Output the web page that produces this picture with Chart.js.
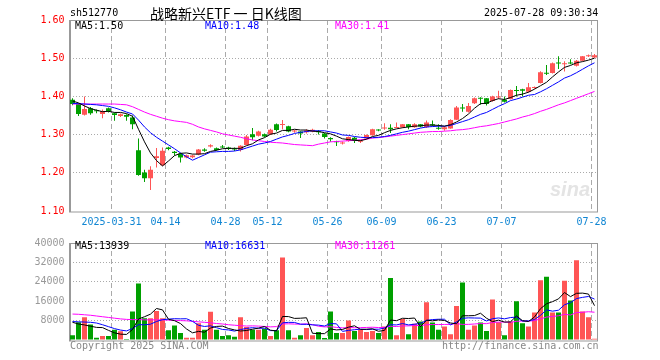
<!DOCTYPE html>
<html>
<head>
<meta charset="utf-8">
<script src="https://cdn.jsdelivr.net/npm/chart.js@4.4.1/dist/chart.umd.min.js"></script>
<style>
  html, body { margin: 0; padding: 0; background: #fff; }
  #wrap { position: relative; width: 660px; height: 360px; overflow: hidden; }
  canvas { position: absolute; left: 0; }
  .t { position: absolute; font: 10px "DejaVu Sans Mono", monospace; line-height: 12px; white-space: pre; }
  .title { position: absolute; font: 14px "Noto Sans CJK SC", sans-serif; line-height: 16px; white-space: pre; }
  .logo { position: absolute; font: italic bold 20px "Liberation Sans", sans-serif; color: #e4e4e4; }
</style>
</head>
<body>
<div id="wrap">
  <canvas id="kline" width="660" height="232" style="top:0"></canvas>
  <canvas id="vol" width="660" height="128" style="top:232px"></canvas>

  <div class="t" style="left:70px;top:7px">sh512770</div>
  <div class="title" style="left:150px;top:5px">战略新兴ETF 一 日K线图</div>
  <div class="t" style="left:484px;top:7px">2025-07-28 09:30:34</div>

  <div class="t" style="left:75px;top:20px;color:#000">MA5:1.50</div>
  <div class="t" style="left:205px;top:20px;color:#0000ff">MA10:1.48</div>
  <div class="t" style="left:335px;top:20px;color:#ff00ff">MA30:1.41</div>

  <div class="logo" style="left:550px;top:178px">sina</div>

  <div class="t" style="left:75px;top:240px;color:#000">MA5:13939</div>
  <div class="t" style="left:205px;top:240px;color:#0000ff">MA10:16631</div>
  <div class="t" style="left:335px;top:240px;color:#ff00ff">MA30:11261</div>

  <div class="t" style="left:70px;top:340px;color:#888">Copyright 2025 SINA.COM</div>
  <div class="t" style="left:442px;top:340px;color:#888">http://finance.sina.com.cn</div>
</div>

<script>
// trading days shown (MM-DD, 2025)
const DATES = [
  "03-20","03-21","03-24","03-25","03-26","03-27","03-28","03-31","04-01","04-02",
  "04-03","04-07","04-08","04-09","04-10","04-11","04-14","04-15","04-16","04-17",
  "04-18","04-21","04-22","04-23","04-24","04-25","04-28","04-29","04-30","05-06",
  "05-07","05-08","05-09","05-12","05-13","05-14","05-15","05-16","05-19","05-20",
  "05-21","05-22","05-23","05-26","05-27","05-28","05-29","05-30","06-03","06-04",
  "06-05","06-06","06-09","06-10","06-11","06-12","06-13","06-16","06-17","06-18",
  "06-19","06-20","06-23","06-24","06-25","06-26","06-27","06-30","07-01","07-02",
  "07-03","07-04","07-07","07-08","07-09","07-10","07-11","07-14","07-15","07-16",
  "07-17","07-18","07-21","07-22","07-23","07-24","07-25","07-28"
];

// x axis labels
const TICK_DATES = ["03-31","04-14","04-28","05-12","05-26","06-09","06-23","07-07","07-28"];
const TICK_TEXT  = ["2025-03-31","04-14","04-28","05-12","05-26","06-09","06-23","07-07","07-28"];

const OPEN = [
  1.391,1.380,1.352,1.369,1.363,1.354,1.369,1.356,1.349,1.351,
  1.345,1.259,1.201,1.186,1.239,1.220,1.266,1.255,1.250,1.240,
  1.241,1.248,1.261,1.269,1.264,1.268,1.266,1.262,1.260,1.273,
  1.301,1.297,1.301,1.301,1.327,1.325,1.322,1.308,1.308,1.306,
  1.308,1.308,1.303,1.291,1.281,1.277,1.283,1.292,1.281,1.290,
  1.298,1.313,1.316,1.318,1.317,1.319,1.327,1.319,1.327,1.319,
  1.327,1.318,1.314,1.316,1.339,1.370,1.360,1.382,1.396,1.395,
  1.388,1.397,1.391,1.393,1.416,1.419,1.412,1.422,1.435,1.461,
  1.461,1.488,1.484,1.488,1.480,1.493,1.505,1.502
];
const HIGH = [
  1.395,1.382,1.400,1.372,1.366,1.366,1.371,1.358,1.355,1.353,
  1.350,1.290,1.208,1.217,1.265,1.266,1.268,1.257,1.252,1.248,
  1.247,1.262,1.264,1.275,1.266,1.273,1.268,1.266,1.272,1.299,
  1.317,1.310,1.303,1.315,1.329,1.338,1.323,1.312,1.309,1.314,
  1.315,1.312,1.304,1.293,1.284,1.282,1.295,1.294,1.286,1.300,
  1.315,1.314,1.330,1.327,1.332,1.328,1.328,1.330,1.328,1.337,
  1.337,1.327,1.322,1.340,1.375,1.380,1.383,1.397,1.398,1.396,
  1.402,1.415,1.400,1.418,1.427,1.420,1.435,1.426,1.466,1.482,
  1.489,1.505,1.492,1.497,1.495,1.506,1.510,1.511
];
const LOW = [
  1.377,1.349,1.350,1.352,1.356,1.343,1.358,1.336,1.346,1.336,
  1.314,1.192,1.176,1.155,1.214,1.218,1.259,1.245,1.227,1.238,
  1.238,1.246,1.255,1.266,1.258,1.265,1.260,1.257,1.256,1.272,
  1.285,1.295,1.293,1.299,1.308,1.314,1.306,1.305,1.291,1.303,
  1.306,1.300,1.290,1.281,1.270,1.274,1.281,1.278,1.278,1.288,
  1.297,1.309,1.313,1.304,1.317,1.318,1.314,1.318,1.319,1.317,
  1.322,1.313,1.310,1.315,1.338,1.360,1.358,1.380,1.378,1.376,
  1.386,1.393,1.384,1.392,1.400,1.400,1.410,1.420,1.434,1.456,
  1.460,1.472,1.465,1.484,1.478,1.492,1.503,1.501
];
const CLOSE = [
  1.380,1.354,1.367,1.356,1.361,1.362,1.361,1.351,1.353,1.347,
  1.327,1.194,1.186,1.208,1.243,1.258,1.262,1.252,1.240,1.246,
  1.245,1.261,1.258,1.272,1.260,1.266,1.262,1.261,1.271,1.295,
  1.293,1.308,1.295,1.313,1.312,1.328,1.308,1.309,1.303,1.311,
  1.313,1.306,1.294,1.288,1.280,1.279,1.294,1.283,1.284,1.299,
  1.314,1.311,1.318,1.314,1.320,1.327,1.320,1.327,1.321,1.332,
  1.324,1.315,1.319,1.338,1.371,1.368,1.375,1.395,1.394,1.380,
  1.400,1.400,1.386,1.417,1.414,1.415,1.424,1.424,1.463,1.459,
  1.487,1.486,1.486,1.486,1.493,1.505,1.507,1.508
];

const MA5 = [
  1.388,1.383,1.375,1.368,1.364,1.360,1.361,1.358,1.358,1.355,
  1.348,1.314,1.281,1.252,1.232,1.218,1.231,1.245,1.251,1.252,
  1.249,1.249,1.250,1.256,1.259,1.263,1.264,1.264,1.264,1.271,
  1.276,1.286,1.292,1.301,1.304,1.311,1.311,1.314,1.312,1.312,
  1.309,1.308,1.305,1.302,1.296,1.289,1.287,1.285,1.284,1.288,
  1.295,1.298,1.305,1.311,1.315,1.318,1.320,1.322,1.323,1.325,
  1.325,1.324,1.322,1.326,1.333,1.342,1.354,1.369,1.381,1.382,
  1.389,1.394,1.392,1.397,1.403,1.406,1.411,1.419,1.428,1.437,
  1.451,1.464,1.476,1.481,1.488,1.491,1.495,1.500
];
const MA10 = [
  1.382,1.381,1.380,1.379,1.378,1.376,1.374,1.370,1.365,1.359,
  1.354,1.338,1.320,1.305,1.293,1.283,1.273,1.263,1.252,1.242,
  1.233,1.240,1.247,1.254,1.255,1.256,1.256,1.257,1.260,1.265,
  1.270,1.275,1.278,1.282,1.288,1.294,1.298,1.303,1.306,1.308,
  1.310,1.310,1.310,1.307,1.304,1.299,1.298,1.295,1.293,1.292,
  1.292,1.293,1.295,1.298,1.302,1.306,1.309,1.313,1.317,1.320,
  1.321,1.322,1.322,1.324,1.329,1.334,1.339,1.346,1.353,1.358,
  1.366,1.374,1.381,1.389,1.393,1.398,1.403,1.405,1.412,1.420,
  1.429,1.438,1.448,1.454,1.462,1.471,1.480,1.488
];
const MA30 = [
  1.380,1.380,1.380,1.380,1.380,1.380,1.380,1.380,1.379,1.378,
  1.373,1.366,1.359,1.353,1.348,1.343,1.339,1.336,1.334,1.332,
  1.327,1.320,1.315,1.311,1.307,1.302,1.299,1.296,1.293,1.289,
  1.286,1.284,1.282,1.280,1.279,1.278,1.276,1.274,1.273,1.272,
  1.271,1.275,1.278,1.281,1.282,1.283,1.284,1.285,1.287,1.288,
  1.291,1.292,1.294,1.296,1.298,1.300,1.302,1.304,1.306,1.307,
  1.308,1.308,1.309,1.310,1.312,1.313,1.315,1.318,1.321,1.323,
  1.326,1.329,1.333,1.337,1.341,1.346,1.350,1.355,1.361,1.366,
  1.372,1.378,1.383,1.389,1.395,1.401,1.407,1.413
];

const VOLUME = [
  2000,7330,9330,6400,930,1600,1600,4270,3600,400,
  11730,23330,8930,8930,12000,8930,4000,6000,2930,930,
  930,6930,4270,11600,4270,1600,2000,1330,9330,5330,
  4270,4270,4670,1600,4000,34000,4000,930,2000,4930,
  2000,3330,800,11730,2930,2930,8000,3730,4270,3330,
  3730,2930,5600,25600,2000,8670,2400,6670,7600,15600,
  7200,4270,5600,2400,14000,23730,4270,6000,7200,3730,
  16670,7330,2000,7600,16000,6930,5600,11330,24670,26130,
  11330,11330,24400,16270,32930,11730,9330,530
];
const VOL_MA5 = [
  7300,6600,6200,5700,5198,5118,3972,2960,2400,2294,
  4320,8666,9598,10664,12984,12424,8558,7972,6772,4558,
  2958,3544,3198,4932,5600,5734,4748,4160,3706,3918,
  4452,4906,5574,4028,3762,9708,9654,8906,8986,9172,
  2772,2638,2612,4558,4158,4344,5278,5864,4372,4452,
  4612,3598,3972,8238,7972,8960,8854,9068,5468,8188,
  7894,8268,8054,7014,6694,10000,10000,10080,11040,8986,
  7574,8186,7386,7466,9920,7972,7626,9492,12906,14932,
  15812,16958,19572,17892,19252,19332,18932,14158
];
const VOL_MA10 = [
  7600,7500,7400,7300,7000,6300,5500,4700,4100,3746,
  4719,6319,6279,6532,7639,8372,8612,8785,8718,8771,
  7691,6051,5585,5852,5079,4346,4146,3679,4319,4759,
  5093,4827,4867,3867,3840,7080,7280,7240,6507,6467,
  6240,6146,5759,6772,6665,3558,3958,4238,4465,4305,
  4478,4438,4918,6305,6212,6786,6226,6520,6853,8080,
  8427,8561,8561,6241,7441,8947,9134,9067,9027,7840,
  8787,9093,8733,9253,9453,7773,7906,8439,10186,12426,
  11892,12292,14532,15399,17092,17572,17945,16865
];
const VOL_MA30 = [
  10700,10600,10400,10200,9900,9600,9300,9000,8700,8500,
  8400,8400,8300,8300,8300,8300,8200,8100,8000,7900,
  7700,7500,7300,7100,6800,6600,6300,6100,5900,5759,
  5834,5732,5577,5417,5519,6599,6679,6568,6515,6666,
  6341,5675,5404,5497,5195,4995,5128,5052,5097,5177,
  5270,5137,5181,5648,5572,5808,5821,5999,5942,6284,
  6382,6382,6413,6439,6773,6430,6439,6608,6782,6742,
  7231,7364,7404,7266,7702,7835,7755,8009,8689,9449,
  9702,9982,10609,10298,11329,11431,11662,11457
];

const RED = "#ff5555";
const GREEN = "#00a000";
const GRID = "#aaaaaa";
const MONO = { family: "DejaVu Sans Mono", size: 10 };

const colors = OPEN.map((o, i) => (CLOSE[i] >= o ? RED : GREEN));
const bodies = OPEN.map((o, i) => [o, CLOSE[i]]);
const wicks = LOW.map((l, i) => [l, HIGH[i]]);
const volBars = VOLUME.map(v => [0, v]);

function isTickIndex(i) {
  return TICK_DATES.includes(DATES[i]);
}

// plot frame, drawn under the marks
const frame = {
  id: "frame",
  beforeDatasetsDraw(chart) {
    const { ctx, chartArea: a } = chart;
    ctx.save();
    ctx.strokeStyle = "#999";
    ctx.lineWidth = 1;
    ctx.strokeRect(a.left, a.top + 0.5, a.right - a.left, a.bottom - a.top + 0.5);
    ctx.lineWidth = 2;
    ctx.beginPath();
    ctx.moveTo(a.left + 0.5, a.top);
    ctx.lineTo(a.left + 0.5, a.bottom + 1);
    ctx.stroke();
    ctx.restore();
  },
};

function maLine(data, color) {
  return {
    type: "line",
    data,
    borderColor: color,
    borderWidth: 1,
    pointRadius: 0,
    tension: 0,
    order: 0,
  };
}

function xAxis(showLabels, height) {
  return {
    offset: true,
    display: true,
    grid: {
      offset: true,
      drawTicks: false,
      color: ctx => (isTickIndex(ctx.index) ? GRID : "rgba(0,0,0,0)"),
    },
    border: { display: false, dash: [5, 3] },
    ticks: {
      display: showLabels,
      autoSkip: false,
      maxRotation: 0,
      padding: 5,
      labelOffset: -3,
      color: "#1186d3",
      font: MONO,
      callback: (v, i) => {
        const k = TICK_DATES.indexOf(DATES[i]);
        return k >= 0 ? TICK_TEXT[k] : "";
      },
    },
    afterFit: s => { s.height = height; },
  };
}

new Chart(document.getElementById("kline"), {
  type: "bar",
  data: {
    labels: DATES,
    datasets: [
      maLine(MA5, "#000000"),
      maLine(MA10, "#0000ff"),
      maLine(MA30, "#ff00ff"),
      { data: bodies, backgroundColor: colors, barThickness: 5, minBarLength: 1, inflateAmount: 0, grouped: false, order: 1 },
      { data: wicks, backgroundColor: colors, barThickness: 1, inflateAmount: 0, grouped: false, order: 2 },
    ],
  },
  options: {
    responsive: false,
    animation: false,
    devicePixelRatio: 1,
    layout: { padding: { top: 20, right: 62.5, bottom: 0, left: 0 } },
    plugins: { legend: { display: false }, tooltip: { enabled: false } },
    scales: {
      x: xAxis(true, 21),
      y: {
        min: 1.1,
        max: 1.6,
        grid: {
          drawTicks: false,
          color: ctx => (ctx.index === 0 || ctx.index === 5 ? "rgba(0,0,0,0)" : GRID),
        },
        border: { display: false, dash: [1, 2] },
        ticks: {
          stepSize: 0.1,
          padding: 5,
          color: "#ff0000",
          font: MONO,
          callback: v => Number(v).toFixed(2),
        },
        afterFit: s => { s.width = 69.5; },
      },
    },
  },
  plugins: [frame],
});

new Chart(document.getElementById("vol"), {
  type: "bar",
  data: {
    labels: DATES,
    datasets: [
      maLine(VOL_MA5, "#000000"),
      maLine(VOL_MA10, "#0000ff"),
      maLine(VOL_MA30, "#ff00ff"),
      { data: volBars, backgroundColor: colors, barThickness: 5, inflateAmount: 0, grouped: false, order: 1 },
    ],
  },
  options: {
    responsive: false,
    animation: false,
    devicePixelRatio: 1,
    layout: { padding: { top: 8, right: 62.5, bottom: 0, left: 0 } },
    plugins: { legend: { display: false }, tooltip: { enabled: false } },
    scales: {
      x: xAxis(false, 20),
      y: {
        min: 0,
        max: 40000,
        grid: {
          drawTicks: false,
          color: ctx => (ctx.index === 0 || ctx.index === 5 ? "rgba(0,0,0,0)" : GRID),
        },
        border: { display: false, dash: [1, 2] },
        ticks: {
          stepSize: 8000,
          padding: 5,
          color: "#999999",
          font: MONO,
          callback: v => (v === 0 ? "" : String(v)),
        },
        afterFit: s => { s.width = 69.5; },
      },
    },
  },
  plugins: [frame],
});
</script>
</body>
</html>
